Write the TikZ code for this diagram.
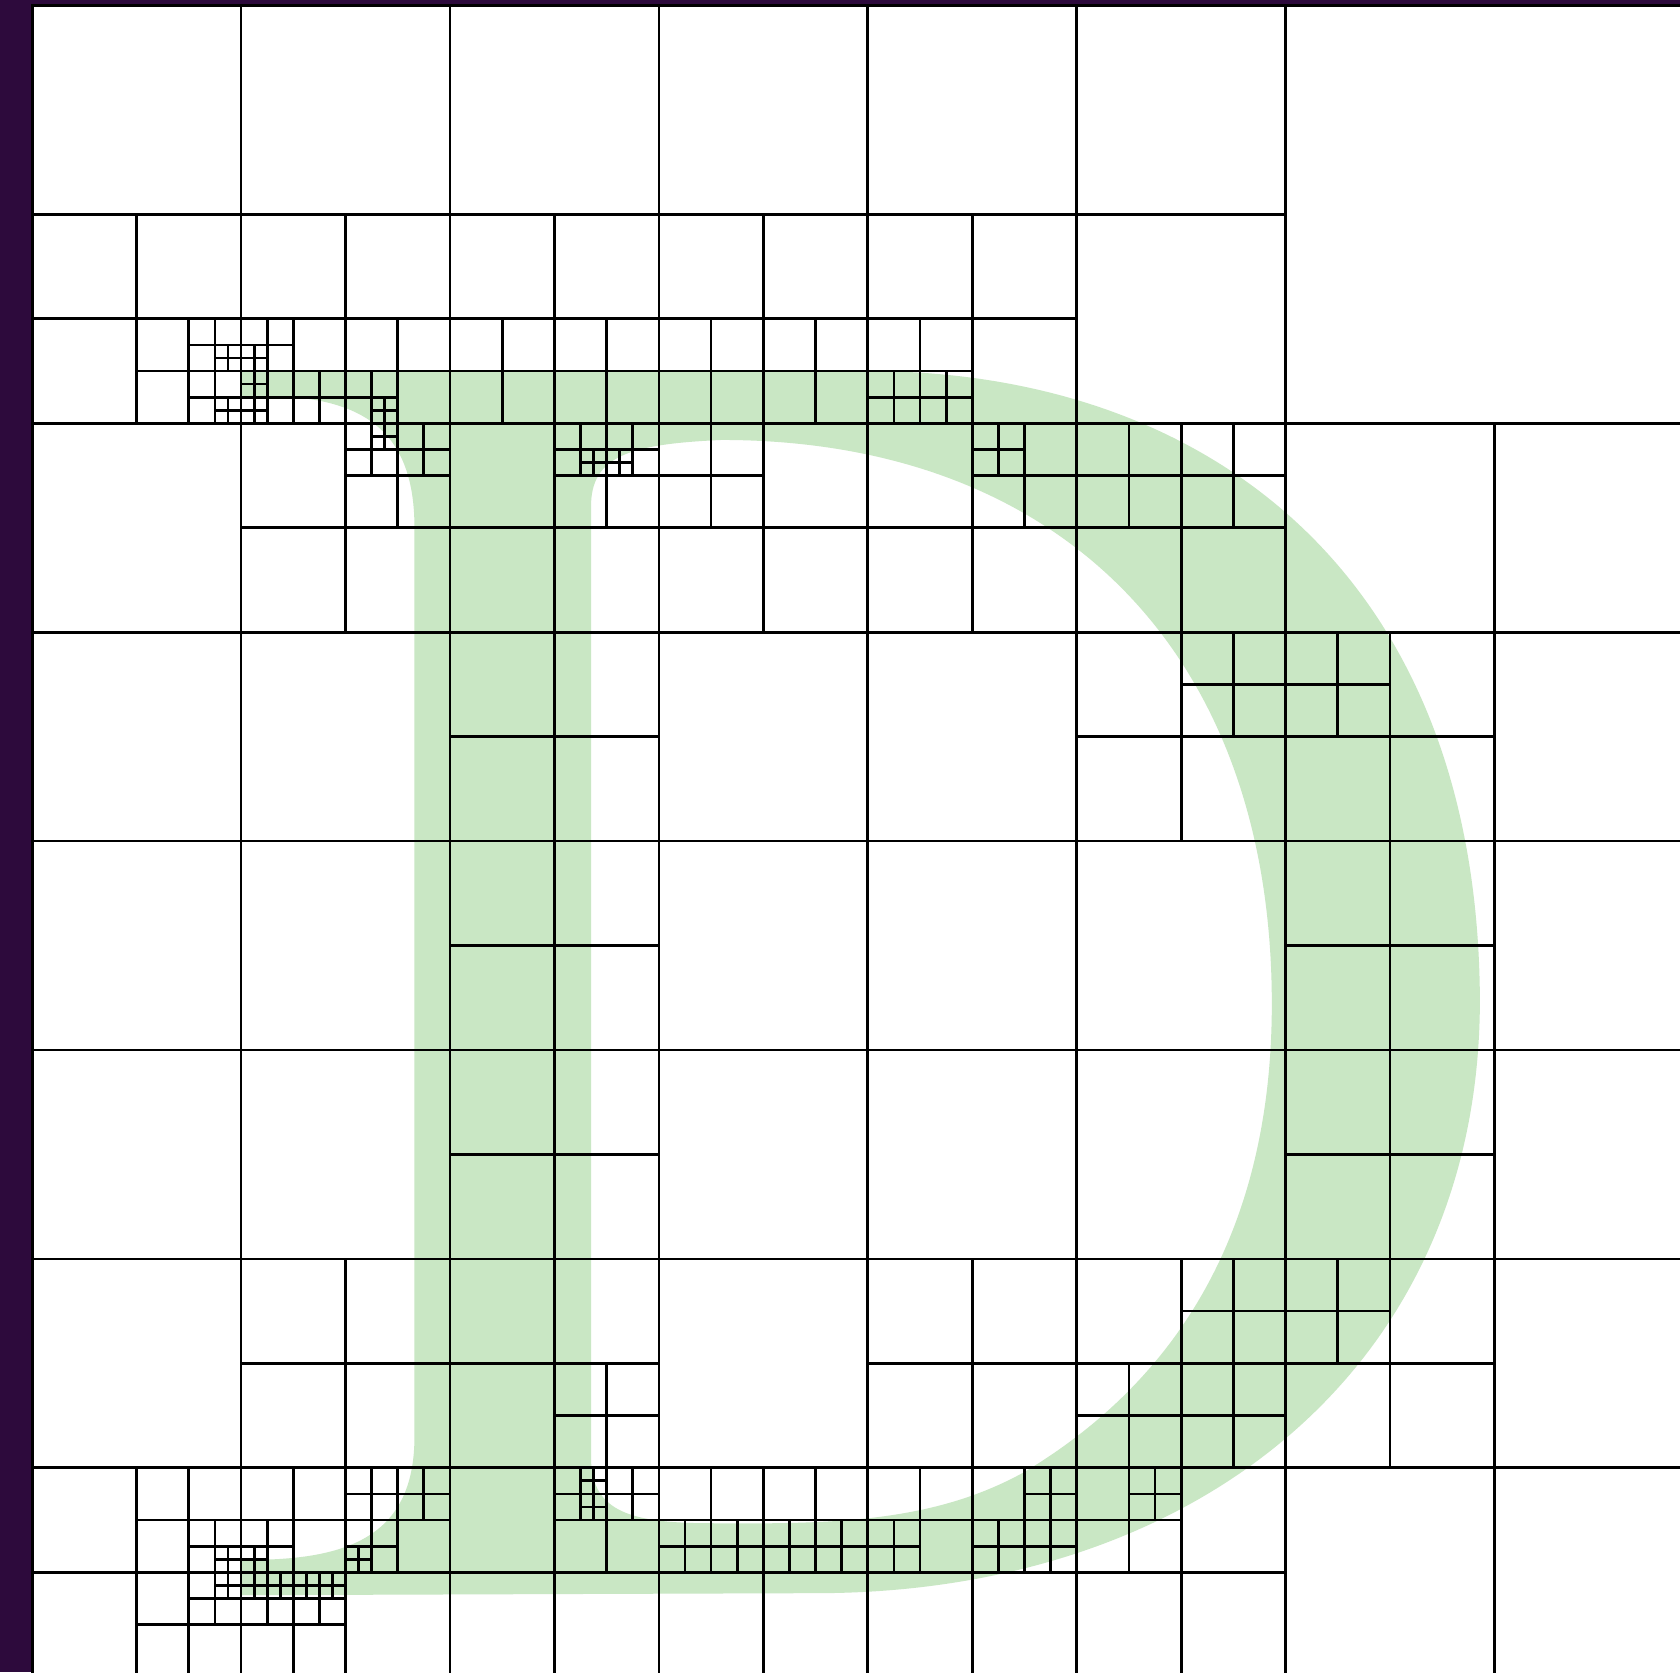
\documentclass[tikz,border=0pt]{standalone}
\usepackage{xcolor}
\usepackage{tikz}
\definecolor{framepurple}{RGB}{45,10,60}
\definecolor{letterfill}{RGB}{201,231,196}
% cross of one subdivided quadtree cell: corner (#1,#2), side #3
\newcommand{\qcross}[3]{\draw ({#1+#3/2},#2) -- ++(0,#3) (#1,{#2+#3/2}) -- ++(#3,0);}

\begin{document}
\begin{tikzpicture}[x=2cm,y=-2cm]
  % visible window of the 8x8 domain
  \def\xmin{-0.154} \def\xmax{7.888}
  \def\ymin{-0.026} \def\ymax{7.978}
  \useasboundingbox (\xmin,\ymin) rectangle (\xmax,\ymax);
  \clip (\xmin,\ymin) rectangle (\xmax,\ymax);
  \fill[framepurple] (\xmin,\ymin) rectangle (\xmax,\ymax);
  \fill[white] (0,0) rectangle (8,8);
  % letter D (outer contour, then the counter)
  \fill[letterfill, even odd rule]
    (1.0,1.75) -- (4.0,1.75) .. controls (5.6,1.75) and (6.92,2.7) .. (6.93,4.76)
    .. controls (6.93,6.5) and (5.6,7.58) .. (3.8,7.6) -- (1.0,7.61) -- (1.0,7.44) -- (1.1,7.44)
    .. controls (1.55,7.43) and (1.83,7.3) .. (1.83,6.85) -- (1.83,2.5)
    .. controls (1.83,2.05) and (1.6,1.88) .. (1.15,1.87) -- (1.0,1.87) -- cycle
    (2.675,6.95) -- (2.675,2.4) .. controls (2.675,2.16) and (2.85,2.1) .. (3.3,2.08)
    .. controls (4.93,2.08) and (5.934,3.106) .. (5.934,4.78)
    .. controls (5.934,5.9) and (5.45,6.6) .. (4.75,7.02)
    .. controls (4.3,7.27) and (3.8,7.27) .. (3.2,7.265)
    .. controls (2.85,7.26) and (2.675,7.2) .. (2.675,6.95) -- cycle;
  % quadtree cells
  \begin{scope}[line width=0.75pt]
    \draw (0,0) rectangle (8,8);
    \foreach \x/\y/\s in {0/0/8, 0/0/4, 4/0/4, 0/4/4, 4/4/4} {\qcross{\x}{\y}{\s}}
    % side 2
    \foreach \x/\y in {0/0,2/0,4/0,0/2,2/2,4/2,6/2,0/4,2/4,4/4,6/4,0/6,2/6,4/6,6/6} {\qcross{\x}{\y}{2}}
    % side 1
    \foreach \x/\y in {0/1,1/1,2/1,3/1,4/1, 1/2,2/2,3/2,4/2,5/2, 2/3,5/3,6/3, 2/4,6/4, 2/5,6/5,
      1/6,2/6,4/6,5/6,6/6, 0/7,1/7,2/7,3/7,4/7,5/7} {\qcross{\x}{\y}{1}}
    % side 1/2
    \foreach \x/\y in {0.5/1.5,1/1.5,1.5/1.5,2/1.5,2.5/1.5,3/1.5,3.5/1.5,4/1.5, 1.5/2,2.5/2,3/2,4.5/2,5/2,5.5/2,
      5.5/3,6/3, 2.5/6.5,5.5/6,5/6.5,5.5/6.5,6/6, 0.5/7,0.5/7.5,1/7,1.5/7,1/7.5,2.5/7,3/7,3.5/7,4/7,4.5/7,5/7} {\qcross{\x}{\y}{0.5}}
    % side 1/4
    \foreach \x/\y in {0.75/1.5,0.75/1.75,1/1.5,1/1.75,1.25/1.75,1.5/1.75,4/1.75,4.25/1.75, 1.5/2,1.75/2,2.5/2,2.75/2,4.5/2,
      0.75/7.25,0.75/7.5,1/7.25,1.5/7,1.75/7,1.5/7.25,1/7.5,1.25/7.5,2.5/7,2.75/7,
      3/7.25,3.25/7.25,3.5/7.25,3.75/7.25,4/7.25,4.75/7,4.5/7.25,4.75/7.25,5.25/7} {\qcross{\x}{\y}{0.25}}
    % side 1/8
    \foreach \x/\y in {0.875/1.625,0.875/1.875,1/1.625,1/1.75,1/1.875,1.625/1.875,1.625/2,2.625/2.125,2.75/2.125,
      0.875/7.375,0.875/7.5,1/7.375,1.5/7.375,1/7.5,1.125/7.5,1.25/7.5,1.375/7.5,2.625/7,2.625/7.125} {\qcross{\x}{\y}{0.125}}
  \end{scope}
\end{tikzpicture}
\end{document}
